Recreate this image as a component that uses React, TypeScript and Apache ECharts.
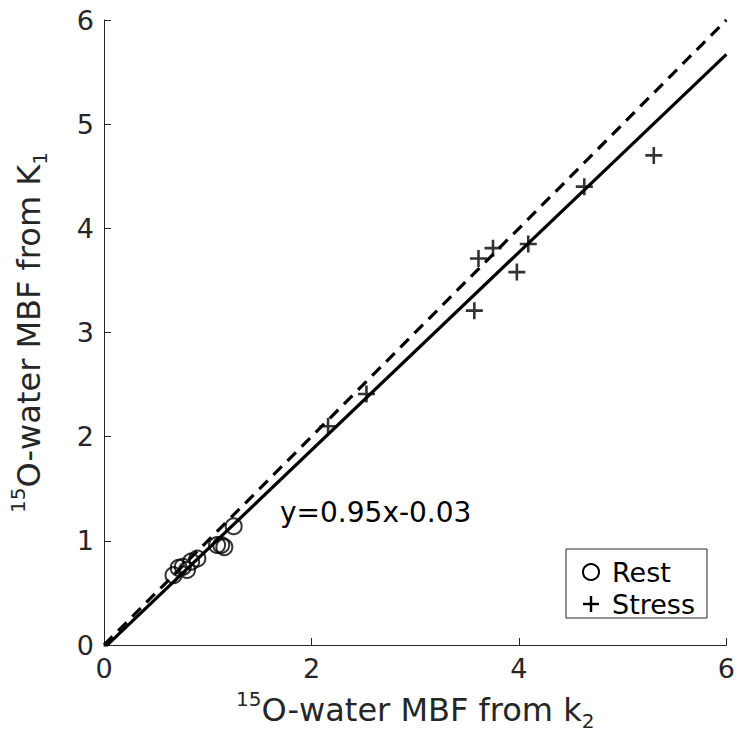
import React, { useEffect, useRef } from "react";
import * as echarts from "echarts";

const restX = [0.67, 0.72, 0.76, 0.80, 0.84, 0.90, 1.09, 1.13, 1.16, 1.25];
const restY = [0.67, 0.74, 0.75, 0.72, 0.80, 0.83, 0.96, 0.96, 0.94, 1.14];
const stressX = [2.16, 2.53, 3.57, 3.61, 3.75, 3.98, 4.09, 4.63, 5.30];
const stressY = [2.10, 2.41, 3.21, 3.71, 3.81, 3.58, 3.85, 4.40, 4.70];
const identityLine = [[0, 0], [6, 6]];
const fitSlope = 0.95;
const fitIntercept = -0.03;
const fitXs = [0, 6];
const xTicks = [0, 2, 4, 6];
const yTicks = [0, 1, 2, 3, 4, 5, 6];
const fitLabel = "y=0.95x-0.03";

const FONT = "DejaVu Sans";
const TXT = "#262626";

export default function App() {
  const ref = useRef<HTMLDivElement>(null);
  useEffect(() => {
    if (!ref.current) return;
    const chart = echarts.init(ref.current, null, { renderer: "svg" });
    const plusPath = "path://M8,0L8,16M0,8L16,8";
    const rich = {
      m: { fontSize: 32, fontFamily: FONT, color: TXT, lineHeight: 42 },
      sup: { fontSize: 20, fontFamily: FONT, color: TXT, lineHeight: 20, verticalAlign: "top" },
      sub: { fontSize: 20, fontFamily: FONT, color: TXT, lineHeight: 20, verticalAlign: "bottom" },
    };
    chart.setOption({
      animation: false,
      backgroundColor: "#ffffff",
      grid: { left: 103, top: 20, right: 11, bottom: 107, containLabel: false },
      xAxis: {
        type: "value",
        min: 0,
        max: 6,
        interval: 2,
        name: "{sup|15}{m|O-water MBF from k}{sub|2}",
        nameLocation: "middle",
        nameGap: 44,
        nameTextStyle: { rich },
        axisLine: { show: true, onZero: false, lineStyle: { color: TXT, width: 1 } },
        axisTick: { show: true, inside: true, length: 7, lineStyle: { color: TXT } },
        axisLabel: {
          fontFamily: FONT,
          fontSize: 27,
          color: TXT,
          margin: 10,
          formatter: (v: number) => (xTicks.includes(v) ? String(v) : ""),
        },
        splitLine: { show: false },
      },
      yAxis: {
        type: "value",
        min: 0,
        max: 6,
        interval: 1,
        name: "{sup|15}{m|O-water MBF from K}{sub|1}",
        nameLocation: "middle",
        nameGap: 54,
        nameRotate: 90,
        nameTextStyle: { rich },
        axisLine: { show: true, onZero: false, lineStyle: { color: TXT, width: 1 } },
        axisTick: { show: true, inside: true, length: 7, lineStyle: { color: TXT } },
        axisLabel: {
          fontFamily: FONT,
          fontSize: 27,
          color: TXT,
          margin: 10,
          formatter: (v: number) => (yTicks.includes(v) ? String(v) : ""),
        },
        splitLine: { show: false },
      },
      series: [
        {
          name: "Rest",
          type: "scatter",
          symbol: "circle",
          symbolSize: 16,
          data: restX.map((x, i) => [x, restY[i]]),
          itemStyle: { color: "transparent", borderColor: "#000", borderWidth: 2 },
          z: 3,
        },
        {
          name: "Stress",
          type: "scatter",
          symbol: plusPath,
          symbolSize: 17,
          data: stressX.map((x, i) => [x, stressY[i]]),
          itemStyle: { color: "transparent", borderColor: "#000", borderWidth: 2.6 },
          z: 3,
        },
        {
          name: "identity",
          type: "line",
          data: identityLine,
          showSymbol: false,
          symbol: "none",
          lineStyle: { color: "#000", width: 3.2, type: [12, 8] },
          clip: true,
          z: 2,
        },
        {
          name: "fit",
          type: "line",
          data: fitXs.map((x) => [x, fitSlope * x + fitIntercept]),
          showSymbol: false,
          symbol: "none",
          lineStyle: { color: "#000", width: 3.2 },
          clip: true,
          z: 2,
        },
      ],
      graphic: [
        {
          type: "text",
          left: 280,
          top: 498,
          style: { text: fitLabel, font: `28px "${FONT}"`, fill: "#000" },
          z: 10,
        },
        {
          type: "rect",
          shape: { x: 566, y: 549, width: 141, height: 69 },
          style: { fill: "#fff", stroke: TXT, lineWidth: 1 },
          z: 10,
        },
        {
          type: "circle",
          shape: { cx: 591, cy: 572, r: 8 },
          style: { fill: "none", stroke: "#000", lineWidth: 2 },
          z: 11,
        },
        {
          type: "polyline",
          shape: { points: [[583, 604], [599, 604]] },
          style: { stroke: "#000", lineWidth: 2.4 },
          z: 11,
        },
        {
          type: "polyline",
          shape: { points: [[591, 596], [591, 612]] },
          style: { stroke: "#000", lineWidth: 2.4 },
          z: 11,
        },
        {
          type: "text",
          x: 612,
          y: 572,
          style: { text: "Rest", font: `27px "${FONT}"`, fill: "#000", verticalAlign: "middle" },
          z: 11,
        },
        {
          type: "text",
          x: 612,
          y: 604,
          style: { text: "Stress", font: `27px "${FONT}"`, fill: "#000", verticalAlign: "middle" },
          z: 11,
        },
      ],
    });
    return () => chart.dispose();
  }, []);
  return <div ref={ref} style={{ width: 738, height: 752, position: "absolute", left: 0, top: 0 }} />;
}
